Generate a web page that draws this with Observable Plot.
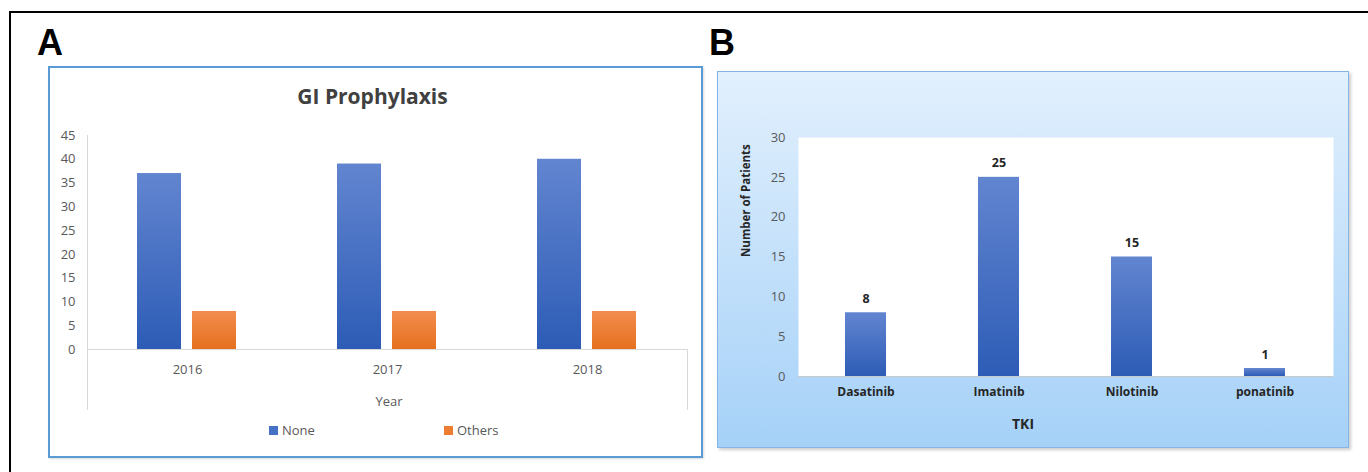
<!DOCTYPE html>
<html>
<head>
<meta charset="utf-8">
<script src="https://cdn.jsdelivr.net/npm/d3@7"></script>
<script src="https://cdn.jsdelivr.net/npm/@observablehq/plot@0.6"></script>
<style>
html, body { margin: 0; padding: 0; background: #fff; }
#root { position: relative; width: 1368px; height: 472px; overflow: hidden; font-family: "Open Sans", sans-serif; }
.abs { position: absolute; }
.ctr { position: absolute; transform: translate(-50%, -50%); line-height: 1; white-space: nowrap; }
.panelLetter { position: absolute; top: 25px; font-family: 'Liberation Sans', Arial, sans-serif; font-weight: bold; font-size: 36px; line-height: 36px; color: #000; }
</style>
</head>
<body>
<div id="root">
  <div class="abs" style="left:9px;top:11px;width:1400px;height:500px;border-left:2.5px solid #000;border-top:2.5px solid #000;"></div>
  <div class="panelLetter" style="left:37px;">A</div>
  <div class="panelLetter" style="left:709px;">B</div>

  <!-- Panel A frame -->
  <div class="abs" style="left:48px;top:66px;width:655px;height:392px;box-sizing:border-box;border:2px solid #5b9bd5;box-shadow:1px 1px 2px rgba(0,0,0,0.15);"></div>
  <div class="abs" style="left:45px;top:81px;width:655px;text-align:center;font-weight:bold;font-size:21px;line-height:30px;color:#404040;">GI Prophylaxis</div>
  <div id="axisLines"></div>
  <div id="chartA" class="abs" style="left:48px;top:67px;"></div>
  <div class="ctr" style="left:389px;top:401px;font-size:13px;color:#595959;">Year</div>
  <div id="legendA"></div>

  <!-- Panel B frame -->
  <div class="abs" style="left:717px;top:71px;width:632px;height:377px;box-sizing:border-box;border:1.5px solid #86b5e5;background:linear-gradient(#e2f0fd,#a5d1f8);box-shadow:2px 2px 3px rgba(0,0,0,0.2);"></div>
  <div id="chartB" class="abs" style="left:717px;top:71px;"></div>
</div>
<script>
// ---- Data ----
const years = ["2016", "2017", "2018"];
const seriesA = ["None", "Others"];
const noneCounts = [37, 39, 40];
const otherCounts = [8, 8, 8];
const yTicksA = [0, 5, 10, 15, 20, 25, 30, 35, 40, 45];

const tkis = ["Dasatinib", "Imatinib", "Nilotinib", "ponatinib"];
const patients = [8, 25, 15, 1];
const yTicksB = [0, 5, 10, 15, 20, 25, 30];

const seriesColors = ["#4472c4", "#ed7d31"];

const rowsA = years.flatMap((year, i) => [
  {year, series: seriesA[0], value: noneCounts[i]},
  {year, series: seriesA[1], value: otherCounts[i]}
]);
const rowsB = tkis.map((name, i) => ({name, value: patients[i]}));

function addGradients(svg, list) {
  const defs = d3.select(svg).insert("defs", ":first-child");
  for (const [id, top, bottom] of list) {
    const g = defs.append("linearGradient").attr("id", id)
      .attr("x1", 0).attr("y1", 0).attr("x2", 0).attr("y2", 1);
    g.append("stop").attr("offset", "0%").attr("stop-color", top);
    g.append("stop").attr("offset", "100%").attr("stop-color", bottom);
  }
}

const font = "'Open Sans', sans-serif";

// ---- Panel A ----
const A = {width: 655, height: 391, marginLeft: 39, marginRight: 16, marginTop: 68, marginBottom: 109};
const chartA = Plot.plot({
  ...A,
  style: {background: "transparent", fontFamily: font, fontSize: "13px", color: "#595959", overflow: "visible"},
  facet: {data: rowsA, x: "year"},
  fx: {domain: years, padding: 0, label: null, tickSize: 0, tickPadding: 15},
  x: {domain: seriesA, paddingInner: 0.196, paddingOuter: 0.884, axis: null},
  y: {domain: [0, 45], ticks: yTicksA, tickSize: 0, tickPadding: 12, label: null},
  color: {domain: seriesA, range: ["url(#gradNone)", "url(#gradOthers)"]},
  marks: [
    Plot.ruleY([0], {stroke: "#d9d9d9", strokeWidth: 1.2}),
    Plot.barY(rowsA, {x: "series", y: "value", fill: "series"})
  ]
});
addGradients(chartA, [["gradNone", "#6285d0", "#2d5cb6"], ["gradOthers", "#f28d4e", "#e6701f"]]);
document.getElementById("chartA").appendChild(chartA);

// decorative axis lines (Excel style extended category boundaries)
{
  const ys = d3.scaleLinear().domain([0, 45]).range([A.height - A.marginBottom, A.marginTop]);
  const left = 48 + A.marginLeft, right = 48 + A.width - A.marginRight;
  const y0 = 67 + ys(0), yTop = 67 + ys(45), yBot = 410;
  const host = document.getElementById("axisLines");
  host.innerHTML =
    `<div class="abs" style="left:${left - 0.5}px;top:${yTop}px;width:1.2px;height:${yBot - yTop}px;background:#d9d9d9"></div>` +
    `<div class="abs" style="left:${right - 0.5}px;top:${y0}px;width:1.2px;height:${yBot - y0}px;background:#d9d9d9"></div>`;
}

// legend
{
  const host = document.getElementById("legendA");
  const pos = [269, 444];
  host.innerHTML = seriesA.map((s, i) =>
    `<div class="abs" style="left:${pos[i]}px;top:426px;width:9px;height:9px;background:${seriesColors[i]}"></div>` +
    `<div class="abs" style="left:${pos[i] + 13}px;top:421px;font-size:13px;line-height:18px;color:#595959">${s}</div>`
  ).join("");
}

// ---- Panel B ----
const chartB = Plot.plot({
  width: 632, height: 377, marginLeft: 81, marginRight: 16, marginTop: 66, marginBottom: 72,
  style: {background: "transparent", fontFamily: font, fontSize: "13px", color: "#595959", overflow: "visible"},
  x: {domain: tkis, paddingInner: 0.69, paddingOuter: 0.345, axis: null},
  y: {domain: [0, 30], ticks: yTicksB, tickSize: 0, tickPadding: 13, label: null},
  marks: [
    Plot.frame({fill: "white", stroke: "none"}),
    Plot.ruleY([0], {stroke: "#c8c8c8", strokeWidth: 1.2}),
    Plot.barY(rowsB, {x: "name", y: "value", fill: "url(#gradTki)"}),
    Plot.text(rowsB, {x: "name", y: "value", text: d => String(d.value), dy: -14, fontWeight: "bold", fontSize: 12.5, fill: "#262626"}),
    Plot.text(rowsB, {x: "name", text: "name", frameAnchor: "bottom", dy: 19, fontWeight: "bold", fontSize: 12, fill: "#262626"}),
    Plot.text(["Number of Patients"], {text: d => d, frameAnchor: "left", rotate: -90, dx: -52, fontWeight: "bold", fontSize: 11.5, fill: "#262626"}),
    Plot.text(["TKI"], {text: d => d, frameAnchor: "bottom", dx: -43, dy: 52, fontWeight: "bold", fontSize: 14, fill: "#262626"})
  ]
});
addGradients(chartB, [["gradTki", "#6285d0", "#2d5cb6"]]);
document.getElementById("chartB").appendChild(chartB);
</script>
</body>
</html>
